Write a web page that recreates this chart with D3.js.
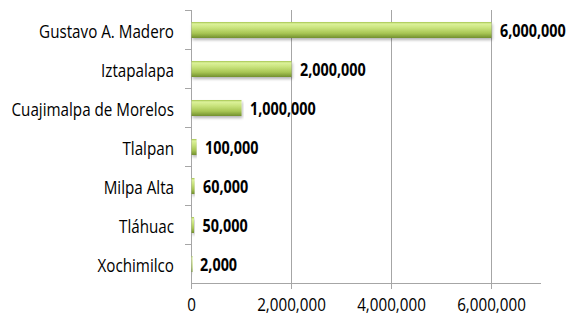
<!DOCTYPE html>
<html>
<head>
<meta charset="utf-8">
<script src="https://cdn.jsdelivr.net/npm/d3@7"></script>
<style>
  html, body { margin: 0; padding: 0; background: #ffffff; }
  svg { display: block; }
  text { font-family: "Open Sans", "Noto Sans", sans-serif; fill: #000; }
</style>
</head>
<body>
<svg id="chart" width="567" height="323"></svg>
<script>
// Delegaciones and their values, top to bottom
const categories = [
  "Gustavo A. Madero",
  "Iztapalapa",
  "Cuajimalpa de Morelos",
  "Tlalpan",
  "Milpa Alta",
  "Tláhuac",
  "Xochimilco"
];
const values = [6000000, 2000000, 1000000, 100000, 60000, 50000, 2000];
const xTicks = [0, 2000000, 4000000, 6000000];
const xMax = 7000000;

const svg = d3.select("#chart");
const margin = { top: 10, right: 26, bottom: 40, left: 191 };
const W = 567, H = 323;
const innerW = W - margin.left - margin.right;
const innerH = H - margin.top - margin.bottom;

const fmt = d3.format(",");
const narrow = 0.8; // horizontal squeeze for a condensed look

const x = d3.scaleLinear().domain([0, xMax]).range([0, innerW]);
const y = d3.scaleBand().domain(categories).range([0, innerH]).paddingInner(0.59).paddingOuter(0.295);
const yBand = d3.scaleBand().domain(categories).range([0, innerH]);

// bar fill: rounded, tube-like shading
const defs = svg.append("defs");
const grad = defs.append("linearGradient").attr("id", "barGrad")
  .attr("x1", 0).attr("y1", 0).attr("x2", 0).attr("y2", 1);
[
  [0, "#a4c450"], [0.12, "#dcf29a"], [0.35, "#cae47e"],
  [0.7, "#a8c654"], [1, "#728f2e"]
].forEach(([o, c]) => grad.append("stop").attr("offset", o).attr("stop-color", c));
const shadow = defs.append("filter").attr("id", "shadow")
  .attr("x", "-5%").attr("y", "-30%").attr("width", "110%").attr("height", "190%");
shadow.append("feGaussianBlur").attr("in", "SourceAlpha").attr("stdDeviation", 1.5).attr("result", "b");
shadow.append("feOffset").attr("in", "b").attr("dx", 1).attr("dy", 2).attr("result", "o");
shadow.append("feComponentTransfer").attr("in", "o").attr("result", "s")
  .append("feFuncA").attr("type", "linear").attr("slope", 0.3);
const merge = shadow.append("feMerge");
merge.append("feMergeNode").attr("in", "s");
merge.append("feMergeNode").attr("in", "SourceGraphic");

const g = svg.append("g").attr("transform", `translate(${margin.left},${margin.top})`);

// vertical gridlines
g.append("g").selectAll("line").data(xTicks.filter(d => d > 0)).join("line")
  .attr("x1", d => Math.round(x(d)) + 0.5).attr("x2", d => Math.round(x(d)) + 0.5)
  .attr("y1", 0).attr("y2", innerH)
  .attr("stroke", "#a6a6a6").attr("stroke-width", 1);

// x axis
const xAxis = g.append("g").attr("transform", `translate(0,${innerH})`)
  .call(d3.axisBottom(x).tickValues(xTicks).tickFormat(fmt).tickSize(6).tickPadding(9).tickSizeOuter(0));
xAxis.select(".domain").attr("stroke", "#a6a6a6").attr("d", `M0.5,0.5H${innerW}`);
xAxis.selectAll(".tick line").attr("stroke", "#a6a6a6");
xAxis.selectAll(".tick text")
  .attr("font-size", 19)
  .attr("fill", "#000")
  .attr("text-anchor", "middle")
  .attr("transform", `scale(${narrow},1)`)
  .attr("x", 0);

// y axis with ticks at band boundaries
const yAxisG = g.append("g");
yAxisG.append("line").attr("x1", 0.5).attr("x2", 0.5).attr("y1", 0).attr("y2", innerH + 6)
  .attr("stroke", "#a6a6a6");
const bounds = categories.map(c => yBand(c));
yAxisG.selectAll("line.t").data(bounds).join("line").attr("class", "t")
  .attr("x1", -6).attr("x2", 0.5)
  .attr("y1", d => Math.round(d) + 0.5).attr("y2", d => Math.round(d) + 0.5)
  .attr("stroke", "#a6a6a6");

// category labels
g.append("g").selectAll("text").data(categories).join("text")
  .attr("transform", d => `translate(-17,${yBand(d) + yBand.bandwidth() / 2 + 1}) scale(${narrow},1)`)
  .attr("text-anchor", "end")
  .attr("dominant-baseline", "central")
  .attr("font-size", 19)
  .text(d => d);

// bars
const data = categories.map((c, i) => ({ c, v: values[i] }));
g.append("g").selectAll("rect").data(data).join("rect")
  .attr("x", 0.5)
  .attr("y", d => y(d.c) + 0.5)
  .attr("width", d => Math.max(1, x(d.v)))
  .attr("height", y.bandwidth())
  .attr("fill", "url(#barGrad)")
  .attr("filter", "url(#shadow)");

// value labels
g.append("g").selectAll("text").data(data).join("text")
  .attr("transform", d => `translate(${x(d.v) + 9},${yBand(d.c) + yBand.bandwidth() / 2 + 1}) scale(${narrow},1)`)
  .attr("dominant-baseline", "central")
  .attr("font-size", 18)
  .attr("font-weight", "bold")
  .text(d => fmt(d.v));
</script>
</body>
</html>
